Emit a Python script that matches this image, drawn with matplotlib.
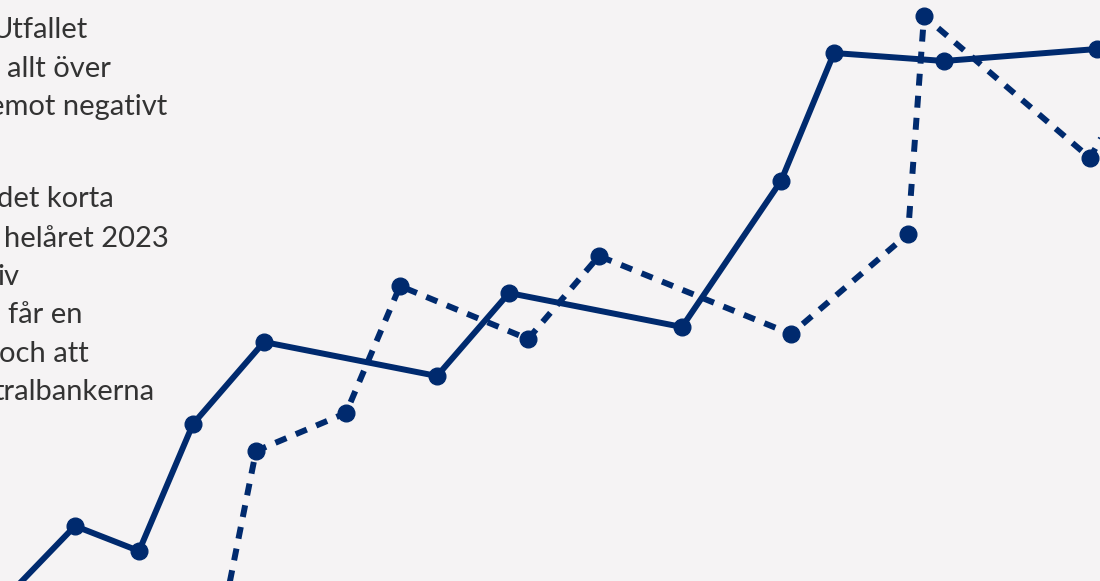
import matplotlib.pyplot as plt

# Visible text fragments (left column, cut off by the crop)
text_lines = ["Utfallet", "allt över", "emot negativt",
              "det korta", "helåret 2023", "iv", "får en", "och att", "tralbankerna"]
text_right = [88, 111, 167, 114, 169, 19, 83, 89, 155]
text_base = [38, 77, 115, 207, 247, 285, 323, 362, 400]

# Series (first/last points lie outside the crop)
solid_x = [-5, 75, 139, 193, 264, 437, 509, 682, 781, 834, 944, 1097]
solid_y = [-28, 55, 30, 157, 239, 205, 288, 254, 400, 528, 520, 532]

dotted_x = [222, 256, 346, 400, 528, 599, 791, 908, 924, 1090, 1120]
dotted_y = [-40, 130, 168, 295, 242, 325, 247, 347, 565, 423, 477]

NAVY = "#002a6e"
BG = "#f5f3f4"

fig = plt.figure(figsize=(11, 5.81), dpi=100)
fig.patch.set_facecolor(BG)
ax = fig.add_axes([0, 0, 1, 1])
ax.set_facecolor(BG)
ax.set_xlim(0, 1100)
ax.set_ylim(0, 581)
ax.axis("off")

ax.plot(solid_x, solid_y, color=NAVY, lw=4.3, marker="o", ms=12,
        solid_joinstyle="round", zorder=3)
ax.plot(dotted_x, dotted_y, color=NAVY, lw=4.3, marker="o", ms=12,
        linestyle=(0, (2.0, 1.7)), dash_capstyle="butt", zorder=3)

for s, xr, yb in zip(text_lines, text_right, text_base):
    ax.text(xr / 1100, 1 - yb / 581, s, transform=ax.transAxes,
            ha="right", va="baseline", fontsize=21,
            family=["Lato", "DejaVu Sans"], fontweight="normal", color="#333333")

fig.savefig("out.png", dpi=100, facecolor=BG)
